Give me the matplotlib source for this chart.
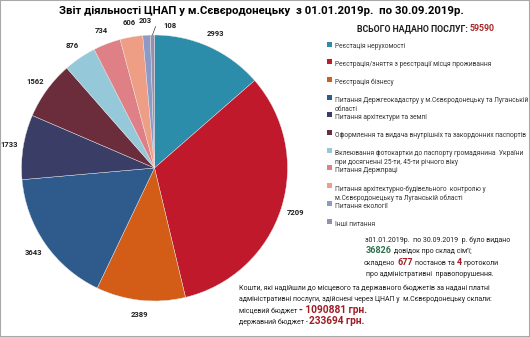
import matplotlib
matplotlib.use("Agg")
import matplotlib.pyplot as plt
from matplotlib.patches import Rectangle
import numpy as np

plt.rcParams['font.family'] = ['Roboto', 'DejaVu Sans']

# Дані діаграми
categories = [
    "Реєстація нерухомості",
    "Реєстрація/зняття з реєстрації місця проживання",
    "Реєстрація бізнесу",
    "Питання Держгеокадастру у м.Сєвєродонецьку та Луганській\nобласті",
    "Питання архітектури та землі",
    "Оформлення та видача внутрішніх та закордонних паспортів",
    "Вклеювання фотокартки до паспорту громадянина  України\nпри досягненні 25-ти, 45-ти річного віку",
    "Питання Держпраці",
    "Питання архітектурно-будівельного  контролю у\nм.Сєвєродонецьку та Луганській області",
    "Питання екології",
    "Інші питання",
]
values = [2993, 7209, 2389, 3643, 1733, 1562, 876, 734, 606, 203, 108]
colors = ["#2B8DAA", "#C0192B", "#D35C17", "#2E5A8C", "#3A3D66", "#6B2D3B",
          "#95C8D8", "#DE8085", "#EF9E86", "#8D9AC6", "#9591AB"]
total_services = 59590
certificates = 36826
resolutions = 677
protocols = 4
local_budget = 1090881
state_budget = 233694

W, H = 530, 337
fig = plt.figure(figsize=(W / 100, H / 100), dpi=100)
fig.patches.append(Rectangle((0, 0), 1, 1, transform=fig.transFigure,
                             fill=False, edgecolor="#A8A8A8", linewidth=1.5))

# кругова діаграма
cx, cy, r = 154.5, 168, 133
ax = fig.add_axes([(cx - r) / W, (H - cy - r) / H, 2 * r / W, 2 * r / H])
total = sum(values)
wedges, texts, autotexts = ax.pie(
    values, colors=colors, startangle=90, counterclock=False,
    autopct=lambda p: f"{round(p * total / 100):d}", pctdistance=1.11,
    wedgeprops=dict(edgecolor="#E8E8E8", linewidth=0.3),
    textprops=dict(fontsize=5.5, fontweight="bold", color="#202020"))
ax.set_xlim(-1, 1)
ax.set_ylim(-1, 1)
ax.axis("off")

# підпис найменшого сектора з виносною лінією
w = wedges[-1]
th = np.deg2rad((w.theta1 + w.theta2) / 2)
autotexts[-1].set_visible(False)
ax.annotate(f"{values[-1]}", xy=(np.cos(th), np.sin(th)), xytext=(0.12, 1.07),
            fontsize=5.5, fontweight="bold", color="#202020", ha="center", va="center",
            arrowprops=dict(arrowstyle="-", color="#404040", lw=0.5,
                            connectionstyle="angle,angleA=0,angleB=70,rad=0", shrinkA=4, shrinkB=0))

fig.text(261 / W, 1 - 11 / H,
         "Звіт діяльності ЦНАП у м.Сєвєродонецьку  з 01.01.2019р.  по 30.09.2019р.",
         ha="center", va="center", fontsize=8.2, fontweight="bold")

renderer = fig.canvas.get_renderer()


def put_line(x, y, parts):
    # x, y у пікселях від лівого верхнього кута
    for s, color, weight, fs, gap in parts:
        t = fig.text(x / W, 1 - y / H, s, ha="left", va="baseline",
                     fontsize=fs, fontweight=weight, color=color)
        x += t.get_window_extent(renderer).width + gap


put_line(357, 31, [("ВСЬОГО НАДАНО ПОСЛУГ:", "#202020", "bold", 6.3, 2),
                   (f"{total_services}", "#A52A2A", "bold", 6.3, 0)])

# легенда
y0 = 44
step = 17.7
for i, (lab, col) in enumerate(zip(categories, colors)):
    y = y0 + i * step
    fig.patches.append(Rectangle((327 / W, 1 - (y + 2.5) / H), 5 / W, 5 / H,
                                 transform=fig.transFigure, facecolor=col, edgecolor="none"))
    fig.text(335 / W, 1 - (y - 0.5) / H, lab, ha="left", va="top", fontsize=4.75,
             color="#353535", linespacing=1.4, transform=fig.transFigure)

dark = "#202020"
red = "#A01C24"
green = "#2E6E4A"
put_line(365, 242, [("з01.01.2019р.  по 30.09.2019  р. було видано", dark, "normal", 5.0, 0)])
put_line(366, 253, [(f"{certificates}", green, "bold", 6.5, 2),
                    ("довідок про склад сім'ї;", dark, "normal", 5.0, 0)])
put_line(364, 265, [("складено", dark, "normal", 5.0, 2),
                    (f"{resolutions}", red, "bold", 6.5, 2),
                    ("постанов та", dark, "normal", 5.0, 2),
                    (f"{protocols}", red, "bold", 6.5, 2),
                    ("протоколи", dark, "normal", 5.0, 0)])
put_line(366, 276, [("про адміністративні  правопорушення.", dark, "normal", 5.0, 0)])
put_line(239, 290, [("Кошти, які надійшли до місцевого та державного бюджетів за надані платні", dark, "normal", 5.0, 0)])
put_line(239, 301, [("адміністративні послуги, здійснені через ЦНАП у  м.Сєвєродонецьку склали:", dark, "normal", 5.0, 0)])
put_line(239, 313, [("місцевий бюджет", dark, "normal", 5.0, 2),
                    (f"- {local_budget} грн.", red, "bold", 7.3, 0)])
put_line(239, 324, [("державний бюджет -", dark, "normal", 5.0, 1),
                    (f"{state_budget} грн.", red, "bold", 7.3, 0)])

fig.savefig("out.png", dpi=100)
